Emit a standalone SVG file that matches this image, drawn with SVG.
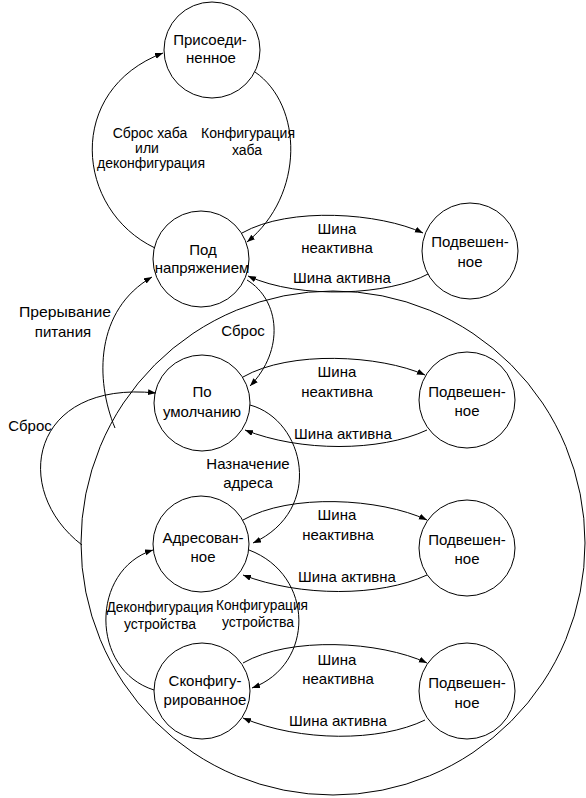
<svg xmlns="http://www.w3.org/2000/svg" width="586" height="798" viewBox="0 0 586 798">
<defs>
<marker id="ah" markerWidth="9" markerHeight="7" refX="8" refY="3" orient="auto" markerUnits="userSpaceOnUse">
<path d="M0,0 L8,3 L0,6 Z" fill="#000"/>
</marker>
<style>
.n{fill:none;stroke:#000;stroke-width:1}
.c{fill:none;stroke:#000;stroke-width:1}
.a{marker-end:url(#ah)}
text{font-family:"Liberation Sans",Arial,sans-serif;font-size:15px;fill:#000;text-anchor:middle}
.s{font-size:14px}
</style>
</defs>
<rect width="586" height="798" fill="#fff"/>
<g id="connectors">
<circle class="c" cx="333" cy="543" r="252"/>
<path class="c a" d="M155,248 C75,210 65,90 163,53"/>
<path class="c a" d="M255,72 C303,105 305,195 247,242"/>
<path class="c a" d="M242,233 C290,206 380,213 423,233"/>
<path class="c a" d="M428,274 C390,295 300,300 248,276"/>
<path class="c a" d="M243,377 C290,350 380,355 425,375"/>
<path class="c a" d="M427,430 C380,452 300,452 245,430"/>
<path class="c a" d="M243,520 C290,493 380,498 427,520"/>
<path class="c a" d="M427,575 C380,597 300,597 243,575"/>
<path class="c a" d="M243,663 C290,636 380,641 427,663"/>
<path class="c a" d="M425,720 C380,742 300,742 243,718"/>
<path class="c a" d="M247,280 C280,300 285,350 250,386"/>
<path class="c a" d="M250,405 C305,420 325,510 253,543"/>
<path class="c a" d="M249,550 C315,575 315,665 252,688"/>
<path class="c a" d="M154,690 C90,670 90,570 153,550"/>
<path class="c a" d="M82,545 C10,490 30,380 156,393"/>
<path class="c a" d="M115,428 C95,380 95,310 152,277"/>
</g>
<g id="attached"><circle class="n" cx="212" cy="50" r="48"/><text x="210" y="45">Присоеди-</text><text x="211" y="63">ненное</text></g>
<g id="powered"><circle class="n" cx="201" cy="259" r="48"/><text x="203" y="255">Под</text><text x="202" y="273">напряжением</text></g>
<g id="susp1"><circle class="n" cx="470" cy="251" r="48"/><text x="470" y="247">Подвешен-</text><text x="470" y="267">ное</text></g>
<g id="default"><circle class="n" cx="202" cy="403" r="48"/><text x="202" y="397">По</text><text x="202" y="417">умолчанию</text></g>
<g id="susp2"><circle class="n" cx="467" cy="400" r="48"/><text x="467" y="397">Подвешен-</text><text x="467" y="416">ное</text></g>
<g id="addressed"><circle class="n" cx="201" cy="544" r="48"/><text x="203" y="543">Адресован-</text><text x="203" y="562">ное</text></g>
<g id="susp3"><circle class="n" cx="467" cy="548" r="48"/><text x="467" y="545">Подвешен-</text><text x="467" y="564">ное</text></g>
<g id="configured"><circle class="n" cx="202" cy="691" r="48"/><text x="205" y="686">Сконфигу-</text><text x="205" y="705">рированное</text></g>
<g id="susp4"><circle class="n" cx="467" cy="691" r="48"/><text x="467" y="688">Подвешен-</text><text x="467" y="708">ное</text></g>
<g id="labels">
<text class="s" x="150" y="138">Сброс хаба</text><text class="s" x="147" y="153">или</text><text class="s" x="151" y="168" textLength="108" lengthAdjust="spacingAndGlyphs">деконфигурация</text>
<text class="s" x="248" y="138" textLength="94" lengthAdjust="spacingAndGlyphs">Конфигурация</text><text class="s" x="247" y="155">хаба</text>
<text x="337" y="234">Шина</text><text x="337" y="253">неактивна</text><text x="342" y="283">Шина активна</text>
<text x="337" y="377">Шина</text><text x="337" y="397">неактивна</text><text x="343" y="439">Шина активна</text>
<text x="337" y="520">Шина</text><text x="338" y="540">неактивна</text><text x="347" y="582">Шина активна</text>
<text x="337" y="665">Шина</text><text x="338" y="684">неактивна</text><text x="338" y="726">Шина активна</text>
<text x="65" y="317" textLength="92" lengthAdjust="spacingAndGlyphs">Прерывание</text><text x="63" y="337">питания</text>
<text x="243" y="336">Сброс</text>
<text x="30" y="431">Сброс</text>
<text x="248" y="469">Назначение</text><text x="248" y="488">адреса</text>
<text class="s" x="160" y="612" textLength="107" lengthAdjust="spacingAndGlyphs">Деконфигурация</text><text class="s" x="160" y="629">устройства</text>
<text class="s" x="262" y="610" textLength="92" lengthAdjust="spacingAndGlyphs">Конфигурация</text><text class="s" x="258" y="627">устройства</text>
</g>
</svg>
